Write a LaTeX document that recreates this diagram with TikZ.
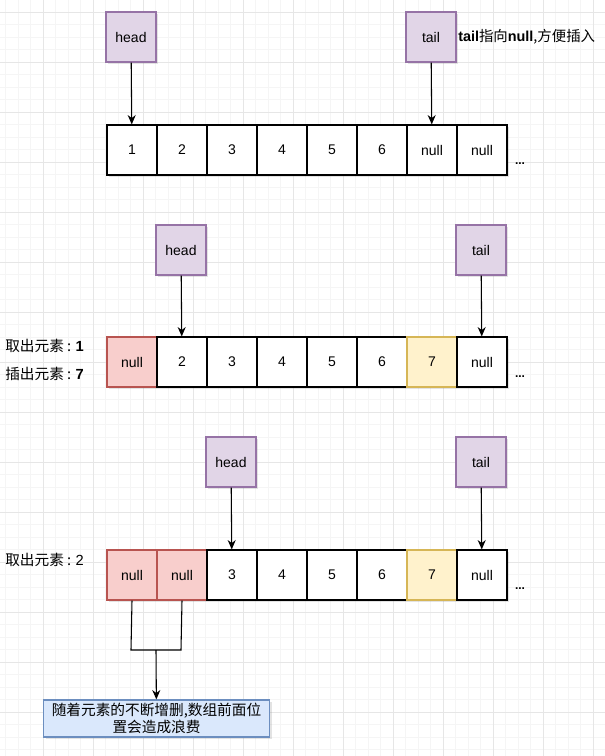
\documentclass[tikz,border=0pt]{standalone}
\usepackage{fontspec}
\setmainfont{Liberation Sans}
\newfontfamily\cjk{Noto Sans CJK SC}
\usetikzlibrary{arrows.meta, shadows, positioning}
\definecolor{gridminor}{HTML}{F5F5F5}
\definecolor{gridmajor}{HTML}{E6E6E6}
\definecolor{ptrfill}{HTML}{E1D5E7}
\definecolor{ptrline}{HTML}{9673A6}
\definecolor{redfill}{HTML}{F8CECC}
\definecolor{redline}{HTML}{B85450}
\definecolor{yelfill}{HTML}{FFF2CC}
\definecolor{yelline}{HTML}{D6B656}
\definecolor{notefill}{HTML}{DAE8FC}
\definecolor{noteline}{HTML}{6C8EBF}
\tikzset{
  % cella dell'array
  cell/.style={draw=black, fill=white, line width=0.9pt, minimum width=37.5pt,
    minimum height=37.5pt, inner sep=0pt, font=\fontsize{10.5}{12}\selectfont,
    drop shadow={shadow xshift=1.8pt, shadow yshift=-1.8pt, opacity=0.22}},
  % puntatore head / tail
  ptr/.style={draw=ptrline, fill=ptrfill, line width=0.9pt, minimum size=37.5pt,
    inner sep=0pt, font=\fontsize{10.5}{12}\selectfont,
    drop shadow={shadow xshift=1.8pt, shadow yshift=-1.8pt, opacity=0.22}},
  arr/.style={-{Stealth[length=7pt, width=6pt]}, line width=0.8pt},
  lbl/.style={font=\fontsize{11}{13}\selectfont, inner sep=0pt},
  dots/.style={font=\fontsize{9}{11}\selectfont\bfseries, inner sep=0pt},
  note/.style={draw=noteline, fill=notefill, line width=0.9pt, minimum width=170pt,
    minimum height=27.75pt, inner sep=1pt, align=center,
    font=\cjk\fontsize{11}{12.8}\selectfont,
    drop shadow={shadow xshift=1.8pt, shadow yshift=-1.8pt, opacity=0.22}},
}
\begin{document}
\begin{tikzpicture}[x=0.75pt, y=-0.75pt]
  \useasboundingbox (0,0) rectangle (605,756);
  \fill[white] (0,0) rectangle (605,756);
  % griglia di sfondo
  \foreach \gx in {5.5,18,...,605} \draw[gridminor, line width=0.5pt] (\gx,0) -- (\gx,756);
  \foreach \gy in {-0.5,12,...,756} \draw[gridminor, line width=0.5pt] (0,\gy) -- (605,\gy);
  \foreach \gx in {43,93,...,605} \draw[gridmajor, line width=0.6pt] (\gx,0) -- (\gx,756);
  \foreach \gy in {12,62,...,756} \draw[gridmajor, line width=0.6pt] (0,\gy) -- (605,\gy);
  % riga 1
  \foreach \v/\f/\d [count=\i] in {1/white/black, 2/white/black, 3/white/black,
      4/white/black, 5/white/black, 6/white/black, null/white/black, null/white/black}
    \node[cell, fill=\f, draw=\d] (a\i) at (82+\i*50,150) {\v};
  \node[dots] (ad) at (520,164) {...};
  \node[ptr] (ha) at (131,37) {head};
  \node[ptr] (ta) at (431,37) {tail};
  \node[lbl, anchor=west, font=\fontsize{10.8}{13}\selectfont] (tn) at (458,37)
    {\textbf{tail}{\cjk 指向}\textbf{null}{\cjk ,方便插入}};
  \draw[arr] (ha) -- (a1);
  \draw[arr] (ta) -- (a7);
  % riga 2
  \foreach \v/\f/\d [count=\i] in {null/redfill/redline, 2/white/black, 3/white/black,
      4/white/black, 5/white/black, 6/white/black, 7/yelfill/yelline, null/white/black}
    \node[cell, fill=\f, draw=\d] (b\i) at (82+\i*50,362) {\v};
  \node[dots] (bd) at (520,377) {...};
  \node[ptr] (hb) at (181,250) {head};
  \node[ptr] (tb) at (481,250) {tail};
  \node[lbl, anchor=west] (lb1) at (5,346) {{\cjk 取出元素 : }\textbf{1}};
  \node[lbl, anchor=west] (lb2) at (5,374) {{\cjk 插出元素 : }\textbf{7}};
  \draw[arr] (hb) -- (b2);
  \draw[arr] (tb) -- (b8);
  % riga 3
  \foreach \v/\f/\d [count=\i] in {null/redfill/redline, null/redfill/redline, 3/white/black,
      4/white/black, 5/white/black, 6/white/black, 7/yelfill/yelline, null/white/black}
    \node[cell, fill=\f, draw=\d] (c\i) at (82+\i*50,575) {\v};
  \node[dots] (cd) at (520,589) {...};
  \node[ptr] (hc) at (231,462) {head};
  \node[ptr] (tc) at (481,462) {tail};
  \node[lbl, anchor=west] (lc1) at (5,560) {{\cjk 取出元素 : }2};
  \draw[arr] (hc) -- (c3);
  \draw[arr] (tc) -- (c8);
  % spreco di spazio
  \node[note] (nt) at (156.5,718.5) {随着元素的不断增删,数组前面位\\置会造成浪费};
  \coordinate (bl) at (131,650);
  \coordinate (br) at (181,650);
  \coordinate (bm) at (156,650);
  \draw[line width=0.8pt] (c1.south) -- (bl) -- (br) -- (c2.south);
  \draw[arr] (bm) -- (nt);
\end{tikzpicture}
\end{document}
